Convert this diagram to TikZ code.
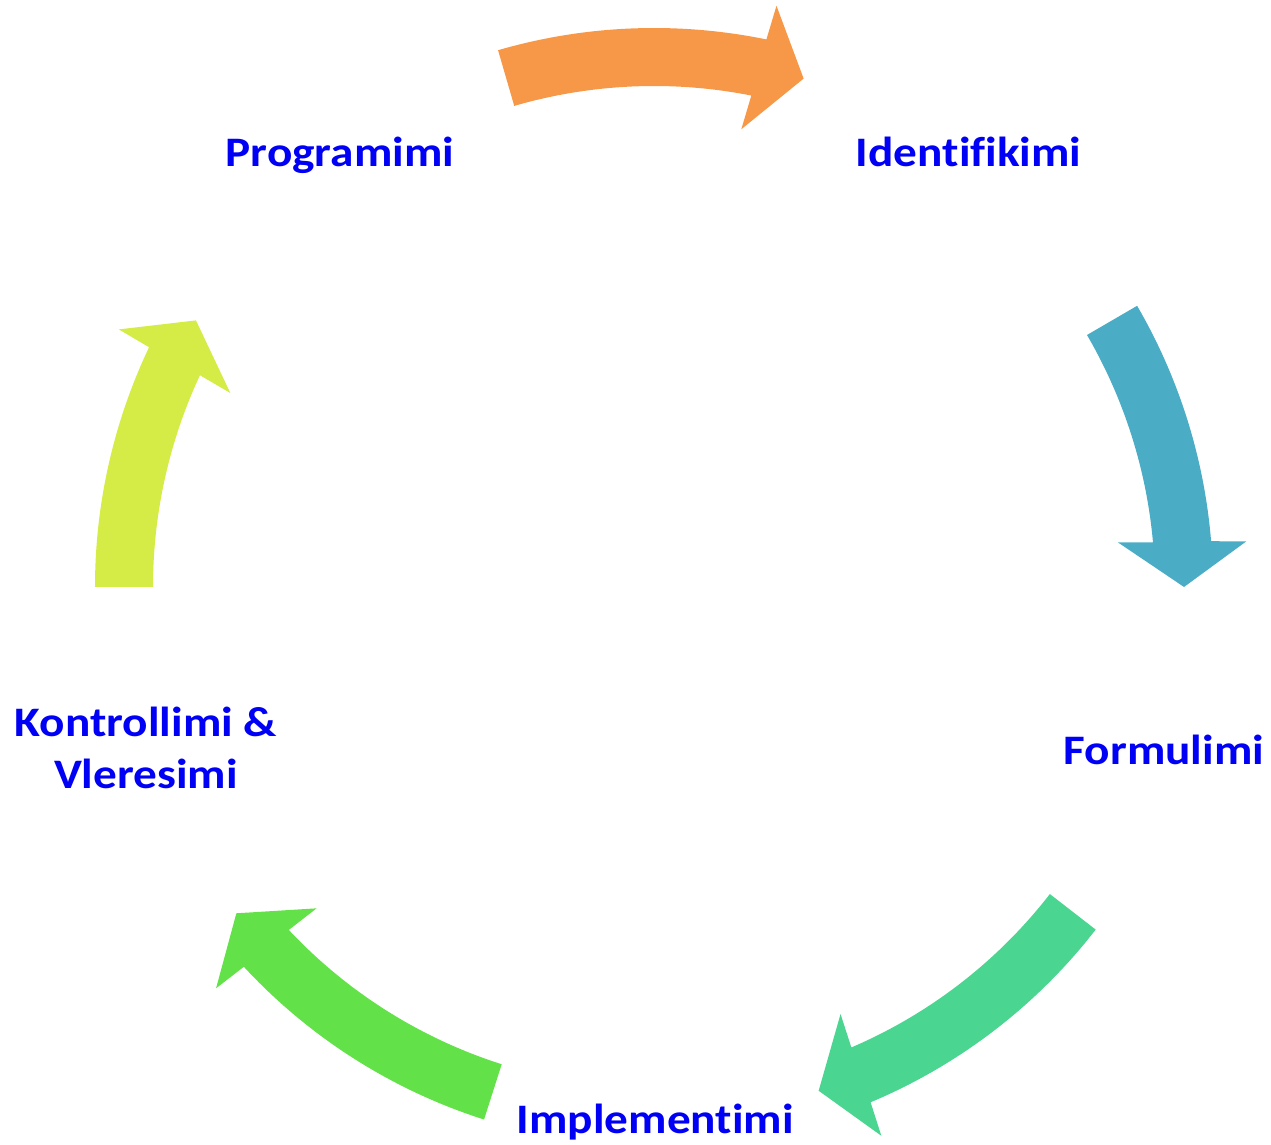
\documentclass[tikz,border=0pt]{standalone}
\usepackage{fontspec}
\setmainfont{Carlito}
\newfontfamily\lblfont[FakeStretch=1.125, Ligatures=NoCommon]{Carlito}
\definecolor{arrOrange}{RGB}{247,152,72}
\definecolor{arrBlue}{RGB}{75,172,198}
\definecolor{arrTeal}{RGB}{74,213,145}
\definecolor{arrGreen}{RGB}{98,226,72}
\definecolor{arrYellow}{RGB}{213,235,70}
\definecolor{lblblue}{RGB}{0,0,245}
\newcommand{\cycarrow}[4]{%
  \fill[#1] (#2:559) arc[start angle=#2, end angle={#3-0.2}, radius=559]
    -- ({#3-0.5}:594) -- (#4:530) -- ({#3+0.6}:466) -- ({#3+0.2}:501)
    arc[start angle={#3+0.2}, end angle=#2, radius=501] -- cycle;}
\begin{document}
\begin{tikzpicture}[x=1pt,y=1pt,
  lbl/.style={text=lblblue, font=\lblfont\fontsize{42}{50}\selectfont\bfseries, anchor=base, inner sep=0pt}]
\useasboundingbox (0,0) rectangle (1271,1145);
\begin{scope}[shift={(654,558)}]
  \cycarrow{arrOrange}{106.2}{78.6}{73.6}
  \cycarrow{arrBlue}{30.2}{4.9}{0}
  \cycarrow{arrTeal}{-37.8}{-67.0}{-71.9}
  \cycarrow{arrGreen}{-107.7}{-137.0}{-142.0}
  \cycarrow{arrYellow}{180}{154.8}{149.8}
\end{scope}
\node[lbl] (programimi) at (340,978.3) {Programimi};
\node[lbl] (identifikimi) at (968.7,978.3) {Identifikimi};
\node[lbl] (formulimi) at (1164,380) {Formulimi};
\node[lbl] (implementimi) at (655.3,11.7) {Implementimi};
\node[lbl] (kontrollimi) at (146,408.3) {Kontrollimi \&};
\node[lbl] (vleresimi) at (146,356.7) {Vleresimi};
\end{tikzpicture}
\end{document}
